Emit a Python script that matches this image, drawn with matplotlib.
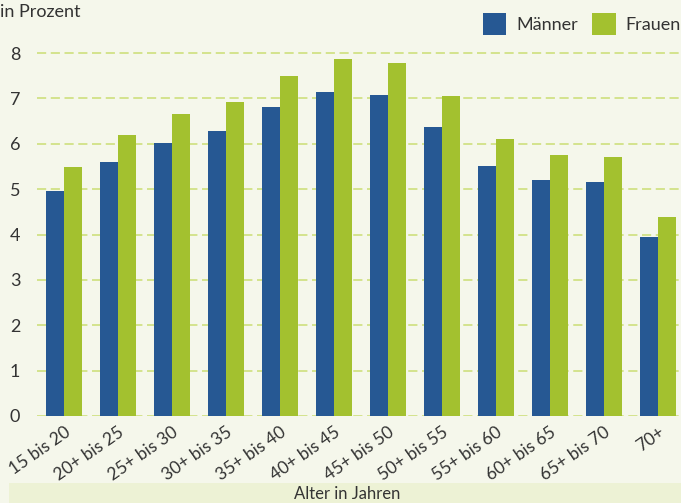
import numpy as np
import matplotlib
matplotlib.use("Agg")
import matplotlib.pyplot as plt
from matplotlib.patches import Rectangle

# Data
age_groups = ["15 bis 20", "20+ bis 25", "25+ bis 30", "30+ bis 35", "35+ bis 40",
              "40+ bis 45", "45+ bis 50", "50+ bis 55", "55+ bis 60", "60+ bis 65",
              "65+ bis 70", "70+"]
maenner = [4.96, 5.60, 6.02, 6.28, 6.81, 7.14, 7.07, 6.37, 5.51, 5.20, 5.16, 3.94]
frauen = [5.49, 6.19, 6.66, 6.92, 7.49, 7.87, 7.78, 7.05, 6.10, 5.75, 5.71, 4.39]
y_ticks = [0, 1, 2, 3, 4, 5, 6, 7, 8]

BG = "#f5f7eb"
BLUE = "#265893"
GREEN = "#a3c12f"
GRID = "#cbdd74"
TEXT = "#333333"

plt.rcParams["font.family"] = ["Lato", "DejaVu Sans"]

W, H = 681, 503
fig = plt.figure(figsize=(W / 100, H / 100), dpi=100, facecolor=BG)

# axes placed in pixel terms: x from 37 to 681, y-zero at 416, 45.375 px per unit
left, right = 37, 681
y0, px_per_unit = 416, 45.375
ymax = 8.4
ax = fig.add_axes([left / W, (H - y0) / H, (right - left) / W, ymax * px_per_unit / H])
ax.set_facecolor(BG)

x = np.arange(len(age_groups))
w = 1 / 3
b1 = ax.bar(x - w / 2, maenner, width=w, color=BLUE, label="Männer", zorder=3)
b2 = ax.bar(x + w / 2, frauen, width=w, color=GREEN, label="Frauen", zorder=3)

ax.set_xlim(-0.5, -0.5 + (right - left) / 54)
ax.set_ylim(0, ymax)
ax.set_yticks(y_ticks)
ax.set_yticklabels([str(t) for t in y_ticks], fontsize=13, color=TEXT)
for t in y_ticks:
    ax.axhline(t, color=GRID, lw=1.1, ls=(0, (6, 3)), zorder=1)

ax.set_xticks(x)
ax.set_xticklabels(age_groups, rotation=35, ha="right", va="top",
                   rotation_mode="anchor", fontsize=12.5, color=TEXT)
ax.tick_params(axis="both", length=0)
ax.tick_params(axis="y", pad=12)
ax.tick_params(axis="x", pad=6)
for s in ax.spines.values():
    s.set_visible(False)

fig.text(0, 1 - 12 / H, "in Prozent", fontsize=13, color=TEXT, va="center", ha="left")

leg = fig.legend(handles=[b1, b2], loc="upper right", bbox_to_anchor=(1.0, 1 - 13 / H),
                 ncol=2, frameon=False, fontsize=13, handlelength=1.3, handleheight=1.5,
                 handletextpad=0.55, columnspacing=0.8, borderpad=0, borderaxespad=0)
for t in leg.get_texts():
    t.set_color(TEXT)

# band at the bottom with the x-axis title
fig.add_artist(Rectangle((9 / W, 0), 1 - 9 / W, 20 / H, transform=fig.transFigure,
                         facecolor="#edf2d5", edgecolor="none"))
fig.text(347 / W, 9 / H, "Alter in Jahren", fontsize=12, color=TEXT, ha="center", va="center")

fig.savefig("out.png", dpi=100, facecolor=BG)
